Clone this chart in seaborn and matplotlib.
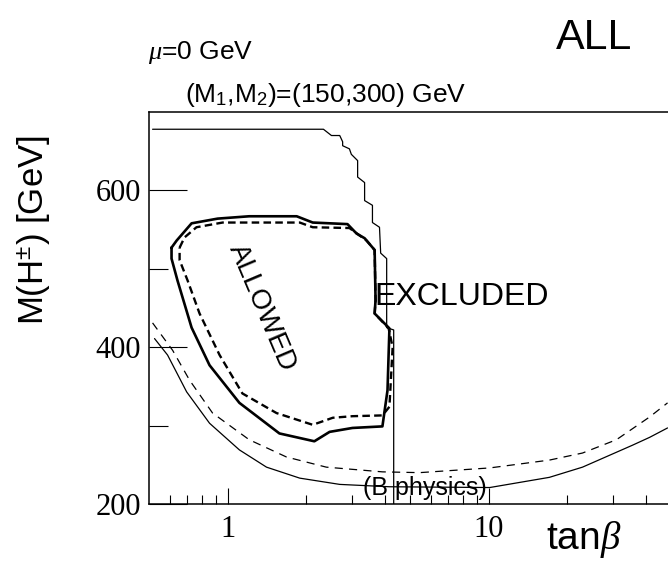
import numpy as np
import pandas as pd
import seaborn as sns
import matplotlib
matplotlib.use("Agg")
import matplotlib.pyplot as plt
from matplotlib.ticker import FixedLocator, FixedFormatter, NullFormatter

# curves (tan beta, M(H+) in GeV)
excl_tanb = [0.516, 2.33, 2.50, 2.69, 2.76, 2.76, 2.93, 2.98, 3.15, 3.15, 3.35, 3.35, 3.59,
             3.59, 3.82, 3.86, 4.07, 4.07, 4.33, 4.33]
excl_mh = [678, 678, 670, 670, 662, 657, 653, 646, 638, 617, 610, 587, 581,
           559, 553, 520, 513, 425, 422, 200]

allowed_tanb = [0.610, 0.638, 0.728, 0.916, 1.21, 1.84, 2.12, 2.88, 3.12, 3.35, 3.66, 3.69,
                3.66, 4.17, 4.10, 3.92, 3.01, 2.46, 2.15, 1.58, 1.11, 0.853, 0.728, 0.643,
                0.610, 0.610]
allowed_mh = [527, 536, 558, 564, 567, 567, 559, 557, 545, 539, 524, 460,
              443, 424, 345, 299, 297, 292, 280, 290, 329, 377, 425, 485,
              513, 527]

allowed2_tanb = [0.655, 0.684, 0.760, 0.957, 1.89, 2.12, 2.93, 3.41, 3.66, 3.69, 3.66,
                 4.14, 4.29, 4.17, 3.92, 3.01, 2.53, 2.12, 1.54, 1.14, 0.932, 0.781,
                 0.703, 0.655, 0.655]
allowed2_mh = [527, 540, 553, 559, 559, 553, 552, 536, 524, 460, 443,
               424, 400, 324, 313, 312, 310, 301, 316, 341, 390, 443,
               485, 511, 527]

bphys_tanb = [0.525, 0.589, 0.697, 0.853, 1.11, 1.41, 1.89, 2.69, 4.17, 10.1, 17.1, 22.9,
              35.6, 41.4, 48.5]
bphys_mh = [411, 390, 343, 303, 269, 247, 233, 225, 222, 221, 234, 247, 275, 285, 297]

bphys2_tanb = [0.516, 0.616, 0.715, 0.876, 1.21, 1.68, 2.39, 3.92, 5.44, 10.1, 17.1, 22.9,
               30.9, 41.4, 48.5]
bphys2_mh = [431, 396, 358, 316, 282, 260, 247, 241, 240, 246, 256, 265, 282, 311, 329]

sns.set_style("ticks")
plt.rcParams["font.family"] = ["Liberation Sans", "DejaVu Sans"]
plt.rcParams["mathtext.fontset"] = "custom"
plt.rcParams["mathtext.rm"] = "Liberation Sans"
plt.rcParams["mathtext.it"] = "Liberation Serif:italic"
plt.rcParams["text.color"] = "black"
plt.rcParams["axes.edgecolor"] = "black"
plt.rcParams["xtick.color"] = "black"
plt.rcParams["ytick.color"] = "black"

W, H = 668, 561
fig = plt.figure(figsize=(W / 100, H / 100), dpi=100)
ax = fig.add_axes([149 / W, 1 - 504 / H, (671 - 149) / W, (504 - 112) / H])

thin = dict(color="black", lw=0.9, sort=False, estimator=None, ax=ax)
sns.lineplot(x=excl_tanb, y=excl_mh, **thin)
sns.lineplot(x=bphys_tanb, y=bphys_mh, **thin)
sns.lineplot(x=bphys2_tanb, y=bphys2_mh, color="black", lw=0.9, sort=False,
             estimator=None, ax=ax, linestyle=(0, (6.5, 5)))
sns.lineplot(x=allowed_tanb, y=allowed_mh, color="black", lw=1.9, sort=False,
             estimator=None, ax=ax)
sns.lineplot(x=allowed2_tanb, y=allowed2_mh, color="black", lw=1.7, sort=False,
             estimator=None, ax=ax, linestyle=(0, (3.2, 1.8)))

ax.set_xscale("log")
ax.set_xlim(0.5, 50)
ax.set_ylim(200, 700)

for s in ax.spines.values():
    s.set_linewidth(1.1)
    s.set_color("black")

ax.xaxis.set_major_locator(FixedLocator([1, 10]))
ax.xaxis.set_major_formatter(FixedFormatter(["1", "10"]))
ax.xaxis.set_minor_locator(FixedLocator([0.6, 0.7, 0.8, 0.9, 2, 3, 4, 5, 6, 7, 8, 9, 20, 30, 40]))
ax.xaxis.set_minor_formatter(NullFormatter())
ax.yaxis.set_major_locator(FixedLocator([200, 400, 600]))
ax.yaxis.set_minor_locator(FixedLocator([300, 500]))

ax.tick_params(axis="x", which="major", direction="in", length=11.5, width=0.8, pad=8,
               labelsize=22, labelfontfamily="Liberation Serif", colors="black")
ax.tick_params(axis="x", which="minor", direction="in", length=6.5, width=0.8, colors="black")
ax.tick_params(axis="y", which="major", direction="in", length=27, width=0.8, pad=6,
               labelsize=22, labelfontfamily="Liberation Serif", colors="black")
ax.tick_params(axis="y", which="minor", direction="in", length=13.5, width=0.8, colors="black")
ax.set_xlabel("")
ax.set_ylabel("")

ax.text(3.66, 464, "EXCLUDED", fontsize=23, ha="left", va="center")
ax.text(5.69, 220, "(B physics)", fontsize=18, ha="center", va="center")
ax.text(1.35, 451, "ALLOWED", fontsize=20, ha="center", va="center", rotation=-67,
        rotation_mode="anchor")

fig.text(594 / W, 1 - 38 / H, "ALL", fontsize=31, ha="center", va="center")
fig.text(148 / W, 1 - 52 / H, r"$\mu$=0 GeV", fontsize=19, ha="left", va="center")
fig.text(185 / W, 1 - 95 / H, r"(M$_1$,M$_2$)=(150,300) GeV", fontsize=19, ha="left", va="center")
fig.text(584 / W, 1 - 540 / H, r"tan$\beta$", fontsize=28, ha="center", va="center")
fig.text(34 / W, 1 - 230 / H, r"M(H$^{\pm}$) [GeV]", fontsize=25, ha="center", va="center",
         rotation=90)

fig.savefig("out.png", dpi=100)
